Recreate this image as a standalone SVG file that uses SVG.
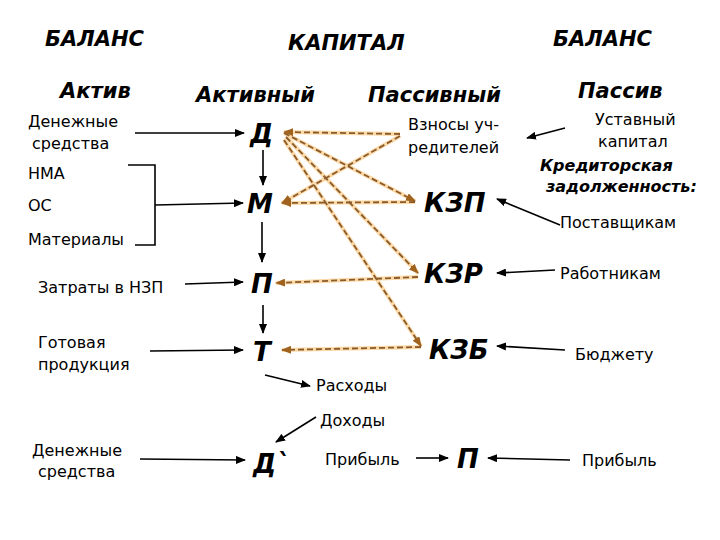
<svg xmlns="http://www.w3.org/2000/svg" width="720" height="540" viewBox="0 0 720 540">
<style>
text{font-family:"DejaVu Sans","Noto Sans",sans-serif;fill:#000}
.h{font-size:21px;font-weight:bold;font-style:italic}
.s{font-size:16px}
.n{font-size:26px;font-weight:bold;font-style:italic}
.k{font-size:16px;font-weight:bold;font-style:italic}
.l{stroke:#000;stroke-width:1.6;fill:none}
.halo{stroke:#fbd9a8;stroke-width:4;fill:none}
.d{stroke:#8a5a2a;stroke-width:1.8;stroke-dasharray:6,3;fill:none}
</style>
<defs>
<marker id="a" markerWidth="10" markerHeight="8" refX="9" refY="4" orient="auto" markerUnits="userSpaceOnUse"><path d="M0,0L10,4L0,8z" fill="#000"/></marker>
<marker id="b" markerWidth="10" markerHeight="8" refX="9" refY="4" orient="auto" markerUnits="userSpaceOnUse"><path d="M0,0L10,4L0,8z" fill="#a0621f"/></marker>
</defs>
<g id="headers">
<text class="h" x="45" y="46">БАЛАНС</text>
<text class="h" x="288" y="50">КАПИТАЛ</text>
<text class="h" x="553" y="46">БАЛАНС</text>
<text class="h" x="60" y="98">Актив</text>
<text class="h" x="196" y="102">Активный</text>
<text class="h" x="368" y="102">Пассивный</text>
<text class="h" x="578" y="98">Пассив</text>
</g>
<g id="left">
<text class="s" x="28" y="127">Денежные</text><text class="s" x="32" y="149">средства</text>
<text class="s" x="28" y="179">НМА</text>
<text class="s" x="28" y="211">ОС</text>
<text class="s" x="28" y="245">Материалы</text>
<text class="s" x="38" y="293">Затраты в НЗП</text>
<text class="s" x="38" y="348">Готовая</text><text class="s" x="38" y="370">продукция</text>
<text class="s" x="32" y="456">Денежные</text><text class="s" x="38" y="477">средства</text>
</g>
<g id="nodes">
<text class="n" x="250" y="143">Д</text>
<text class="n" x="247" y="213">М</text>
<text class="n" x="251" y="293">П</text>
<text class="n" x="253" y="361">Т</text>
<text class="n" x="253" y="473">Д`</text>
<text class="n" x="457" y="468">П</text>
<text class="n" x="424" y="212">КЗП</text>
<text class="n" x="424" y="283">КЗР</text>
<text class="n" x="429" y="359">КЗБ</text>
</g>
<g id="right">
<text class="s" x="408" y="130">Взносы уч-</text><text class="s" x="408" y="153">редителей</text>
<text class="s" x="595" y="125">Уставный</text><text class="s" x="598" y="147">капитал</text>
<text class="k" x="540" y="171">Кредиторская</text><text class="k" x="546" y="192">задолженность:</text>
<text class="s" x="560" y="228">Поставщикам</text>
<text class="s" x="560" y="279">Работникам</text>
<text class="s" x="575" y="360">Бюджету</text>
<text class="s" x="316" y="391">Расходы</text>
<text class="s" x="320" y="426">Доходы</text>
<text class="s" x="325" y="465">Прибыль</text>
<text class="s" x="582" y="466">Прибыль</text>
</g>
<g id="connectors">
<g class="halo">
<path d="M400,134L284,132M400,136L282,203M284,133L415,201M415,202L282,203M286,137L418,273M418,277L276,283M284,140L421,346M421,347L282,350"/>
</g>
<g class="d" marker-end="url(#b)">
<path d="M400,134L284,132"/><path d="M400,136L282,203"/><path d="M284,133L415,201"/><path d="M415,202L282,203"/>
<path d="M286,137L418,273"/><path d="M418,277L276,283"/><path d="M284,140L421,346"/><path d="M421,347L282,350"/>
</g>
<g class="l" marker-end="url(#a)">
<path d="M135,133L244,133"/><path d="M155,205L243,203"/><path d="M185,284L243,282"/><path d="M150,351L243,350"/><path d="M140,459L245,460"/>
<path d="M263,150L263,185"/><path d="M262,222L262,262"/><path d="M263,305L263,333"/>
<path d="M265,375L310,386"/><path d="M316,417L276,442"/><path d="M416,458L448,458"/><path d="M570,460L488,458"/>
<path d="M565,128L527,138"/><path d="M560,225L497,199"/><path d="M555,270L497,273"/><path d="M565,350L497,346"/>
</g>
<path class="l" d="M128,165L155,165L155,245L135,245"/>
</g>
</svg>
